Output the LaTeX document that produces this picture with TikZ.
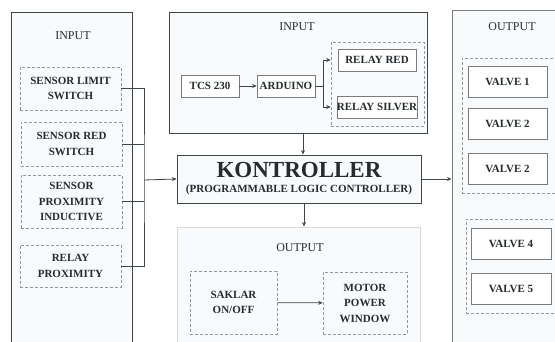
\documentclass[tikz,border=0pt]{standalone}
\usepackage{fontspec}
\setmainfont{Liberation Serif}[BoldFont={Liberation Serif Bold}]
\usetikzlibrary{arrows.meta}
\definecolor{kline}{RGB}{62,70,72}
\definecolor{kgray}{RGB}{120,124,126}
\definecolor{klight}{RGB}{215,217,219}
\definecolor{kdash}{RGB}{150,152,154}
\definecolor{kpanel}{RGB}{249,250,252}
\definecolor{ktext}{RGB}{38,44,46}
\newcommand{\kbold}{\fontsize{11}{15.5}\selectfont\bfseries}

\begin{document}
\begin{tikzpicture}[
  x=1pt, y=-1pt,
  panel/.style={draw=kline, line width=0.9pt, fill=kpanel, inner sep=0pt},
  ptitle/.style={font=\fontsize{12}{14}\selectfont, text=ktext},
  dbox/.style={draw=kdash, dash pattern=on 3pt off 2pt, line width=0.6pt, align=center,
               font=\kbold, text=ktext, inner sep=0pt},
  sbox/.style={draw=kgray, line width=0.6pt, fill=white, align=center,
               font=\kbold, text=ktext, inner sep=0pt},
  arr/.style={-{Stealth[length=4.5pt,width=4pt]}, line width=0.8pt, draw=kline},
  bus/.style={line width=0.8pt, draw=kline},
]
  \clip (0,0) rectangle (555,342);
  % panels
  \node[panel, minimum width=121pt, minimum height=350pt] (inleft) at (71.5,187) {};
  \node[panel, minimum width=258pt, minimum height=121pt] (intop) at (298,72.5) {};
  \node[panel, draw=klight, minimum width=243pt, minimum height=140pt] (outbot) at (298.5,297) {};
  \node[panel, draw=kgray, minimum width=120pt, minimum height=352pt] (outright) at (512,186) {};
  % left input
  \node[ptitle] (tinleft) at (73,36) {INPUT};
  \node[dbox, minimum width=101pt, minimum height=43pt] (s1) at (70.5,88.5) {SENSOR LIMIT\\SWITCH};
  \node[dbox, minimum width=101pt, minimum height=44pt] (s2) at (71.5,144) {SENSOR RED\\SWITCH};
  \node[dbox, minimum width=101pt, minimum height=53pt] (s3) at (71.5,201.5) {SENSOR\\PROXIMITY\\INDUCTIVE};
  \node[dbox, minimum width=101pt, minimum height=42pt] (s4) at (70.5,266) {RELAY\\PROXIMITY};
  \coordinate (join) at (144,180);
  % top input
  \node[ptitle] (tintop) at (297,27) {INPUT};
  \node[sbox, minimum width=58pt, minimum height=22pt] (tcs) at (210,86) {TCS 230};
  \node[sbox, minimum width=58pt, minimum height=22pt] (ard) at (286,86) {ARDUINO};
  \node[dbox, minimum width=93pt, minimum height=84pt] (relays) at (377.5,84) {};
  \node[sbox, minimum width=78pt, minimum height=22pt] (rred) at (377,60) {RELAY RED};
  \node[sbox, minimum width=78pt, minimum height=22pt] (rsil) at (377,107) {RELAY SILVER};
  \coordinate (split) at (323,86);
  % controller
  \node[draw=kline, line width=0.9pt, fill=kpanel, align=center, text=ktext,
        minimum width=244pt, minimum height=48pt, inner sep=0pt] (plc) at (299,179)
    {{\fontsize{23}{20}\selectfont\bfseries KONTROLLER}\\[3pt]
     {\fontsize{11}{12}\selectfont\bfseries (PROGRAMMABLE LOGIC CONTROLLER)}};
  % bottom output
  \node[ptitle] (toutbot) at (300,248) {OUTPUT};
  \node[dbox, minimum width=87pt, minimum height=63pt] (saklar) at (233.5,302.5) {SAKLAR\\ON/OFF};
  \node[dbox, minimum width=84pt, minimum height=62pt] (motor) at (365,303) {MOTOR\\POWER\\WINDOW};
  % right output
  \node[ptitle] (toutright) at (512,27) {OUTPUT};
  \node[dbox, minimum width=98pt, minimum height=135pt] (vg1) at (511,125.5) {};
  \node[sbox, minimum width=79pt, minimum height=31pt] (v1) at (507.5,81.5) {VALVE 1};
  \node[sbox, minimum width=79pt, minimum height=31pt] (v2) at (507.5,123.5) {VALVE 2};
  \node[sbox, minimum width=79pt, minimum height=31pt] (v3) at (507.5,168.5) {VALVE 2};
  \node[dbox, minimum width=94pt, minimum height=94pt] (vg2) at (513,266) {};
  \node[sbox, minimum width=80pt, minimum height=31pt] (v4) at (511,243.5) {VALVE 4};
  \node[sbox, minimum width=80pt, minimum height=31pt] (v5) at (511,289) {VALVE 5};
  % connectors
  \draw[bus] (s1.east) -| (join) |- (s4.east);
  \draw[bus] (s2.east) -- (s2.east -| join);
  \draw[bus] (s3.east) -- (s3.east -| join);
  \draw[arr] (join) -- (plc.west);
  \draw[arr] (tcs) -- (ard);
  \draw[bus] (ard.east) -- (split);
  \draw[arr] (split) |- (rred.west -| relays.west);
  \draw[arr] (split) |- (rsil.west -| relays.west);
  \draw[arr] ([xshift=5pt]intop.south) -- ([xshift=5pt]intop.south |- plc.north);
  \draw[arr] ([xshift=5pt]plc.south) -- ([xshift=5pt]plc.south |- outbot.north);
  \draw[arr] (plc.east) -- (plc.east -| outright.west);
  \draw[arr] (saklar) -- (motor);
\end{tikzpicture}
\end{document}
